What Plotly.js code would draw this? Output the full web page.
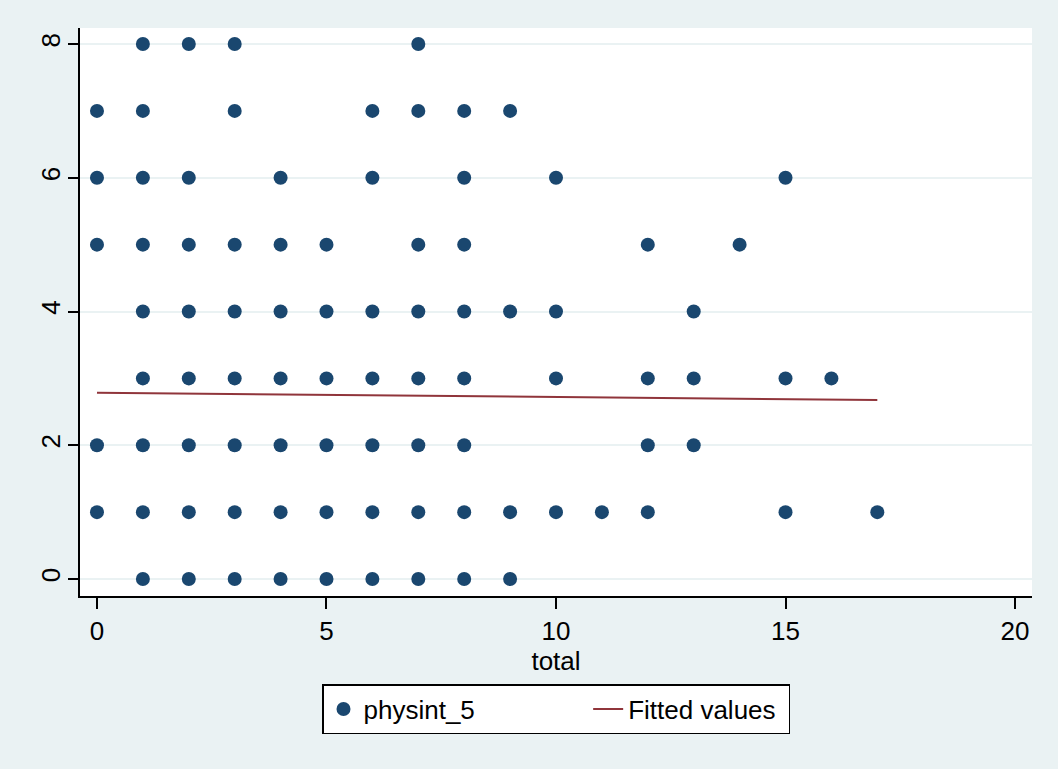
<!DOCTYPE html>
<html>
<head>
<meta charset="utf-8">
<script src="https://cdn.plot.ly/plotly-3.0.1.min.js"></script>
<style>html,body{margin:0;padding:0;background:#EAF2F3;}#chart{width:1058px;height:769px;}</style>
</head>
<body>
<div id="chart"></div>
<script>
// total values observed at each physint_5 level
const physint8 = [1, 2, 3, 7];
const physint7 = [0, 1, 3, 6, 7, 8, 9];
const physint6 = [0, 1, 2, 4, 6, 8, 10, 15];
const physint5 = [0, 1, 2, 3, 4, 5, 7, 8, 12, 14];
const physint4 = [1, 2, 3, 4, 5, 6, 7, 8, 9, 10, 13];
const physint3 = [1, 2, 3, 4, 5, 6, 7, 8, 10, 12, 13, 15, 16];
const physint2 = [0, 1, 2, 3, 4, 5, 6, 7, 8, 12, 13];
const physint1 = [0, 1, 2, 3, 4, 5, 6, 7, 8, 9, 10, 11, 12, 15, 17];
const physint0 = [1, 2, 3, 4, 5, 6, 7, 8, 9];
const levels = [0, 1, 2, 3, 4, 5, 6, 7, 8];
const rows = [physint0, physint1, physint2, physint3, physint4, physint5, physint6, physint7, physint8];

// fitted values
const fitX = [0, 17];
const fitY = [2.787, 2.677];

const xTickVals = [0, 5, 10, 15, 20];
const yTickVals = [0, 2, 4, 6, 8];
const seriesNames = ['physint_5', 'Fitted values'];

const xs = [], ys = [];
rows.forEach((r, i) => r.forEach(v => { xs.push(v); ys.push(levels[i]); }));

const font = {family: '"Liberation Sans", Arial, Helvetica, sans-serif', size: 26, color: '#000'};
const pad = n => '\u00A0'.repeat(n);

const traces = [
  {x: xs, y: ys, type: 'scatter', mode: 'markers', name: seriesNames[0] + pad(15),
   marker: {color: '#1A476F', size: 14}},
  {x: fitX, y: fitY, type: 'scatter', mode: 'lines', name: seriesNames[1] + pad(1),
   line: {color: '#90353B', width: 2}}
];

const layout = {
  width: 1058, height: 769,
  paper_bgcolor: '#EAF2F3', plot_bgcolor: '#FFFFFF',
  margin: {l: 80, r: 26, t: 28, b: 173},
  font: font,
  showlegend: true,
  legend: {orientation: 'h', x: 0.5, xanchor: 'center', y: -0.155, yanchor: 'top',
           bgcolor: '#FFFFFF', bordercolor: '#000', borderwidth: 1.5,
           font: font, itemwidth: 30},
  xaxis: {range: [-0.37, 20.37], tickvals: xTickVals, ticks: 'outside', ticklen: 11, tickwidth: 1.5,
          tickcolor: '#000', showline: true, linecolor: '#000', linewidth: 1.5,
          showgrid: false, zeroline: false, tickfont: font,
          title: {text: 'total', font: font, standoff: 2}},
  yaxis: {range: [-0.254, 8.24], tickvals: yTickVals, ticks: 'outside', ticklen: 10, tickwidth: 1.5,
          tickcolor: '#000', showline: true, linecolor: '#000', linewidth: 1.5,
          showgrid: true, gridcolor: '#EAF2F3', gridwidth: 2, zeroline: false,
          tickangle: -90, tickfont: font, ticklabelstandoff: -2}
};

Plotly.newPlot('chart', traces, layout, {displayModeBar: false});
</script>
</body>
</html>
